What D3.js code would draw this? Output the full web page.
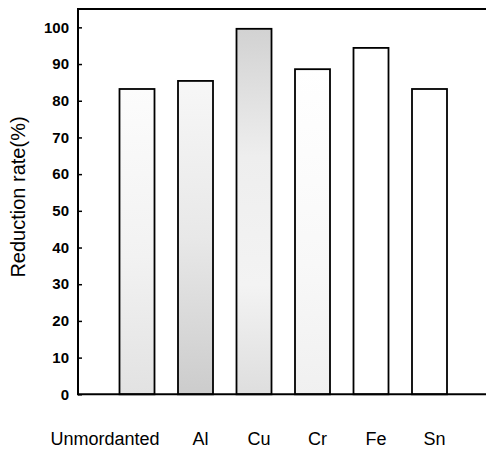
<!DOCTYPE html>
<html>
<head>
<meta charset="utf-8">
<script src="https://cdn.jsdelivr.net/npm/d3@7"></script>
<style>
  html, body { margin: 0; padding: 0; background: #fff; }
  svg { display: block; }
</style>
</head>
<body>
<svg id="chart" width="486" height="450"></svg>
<script>
const categories = ["Unmordanted", "Al", "Cu", "Cr", "Fe", "Sn"];
const values = [83.2, 85.4, 99.6, 88.6, 94.4, 83.2];
const yTicks = [0, 10, 20, 30, 40, 50, 60, 70, 80, 90, 100];
const yLabel = "Reduction rate(%)";

// styles (gradient stops per bar: [offset, colour])
const barShades = [
  [[0, "#fcfcfc"], [0.55, "#f2f2f2"], [1, "#e2e2e2"]],
  [[0, "#f7f7f7"], [0.5, "#e8e8e8"], [1, "#cccccc"]],
  [[0, "#d2d2d2"], [0.35, "#eeeeee"], [0.7, "#f3f3f3"], [1, "#dedede"]],
  [[0, "#ffffff"], [0.6, "#f8f8f8"], [1, "#f0f0f0"]],
  [[0, "#ffffff"], [1, "#ffffff"]],
  [[0, "#ffffff"], [1, "#ffffff"]]
];

const svg = d3.select("#chart");
const mLeft = 78, mRight = 486, mTop = 9, mBottom = 394.3;

const y = d3.scaleLinear().domain([0, 105]).range([mBottom, mTop]);
const x = d3.scaleBand().domain(categories)
  .range([90.25, 476.25]).paddingInner(0.4017).paddingOuter(0.5);

const defs = svg.append("defs");
categories.forEach((c, i) => {
  const g = defs.append("linearGradient").attr("id", "g" + i)
    .attr("x1", 0).attr("y1", 0).attr("x2", 0).attr("y2", 1);
  barShades[i].forEach(s => g.append("stop").attr("offset", s[0]).attr("stop-color", s[1]));
});

// bars
svg.append("g").selectAll("rect").data(categories).join("rect")
  .attr("x", d => x(d))
  .attr("y", (d, i) => y(values[i]))
  .attr("width", x.bandwidth())
  .attr("height", (d, i) => y(0) - y(values[i]))
  .attr("fill", (d, i) => `url(#g${i})`)
  .attr("stroke", "#000")
  .attr("stroke-width", 1.8);

// left axis with inward ticks
const yAxis = d3.axisRight(y).tickValues(yTicks).tickSize(4).tickFormat("");
const ga = svg.append("g").attr("transform", `translate(${mLeft},0)`).call(yAxis);
ga.select(".domain").remove();
ga.selectAll(".tick line").attr("stroke", "#000").attr("stroke-width", 1.5);

svg.append("line").attr("x1", mLeft).attr("x2", mLeft).attr("y1", mTop - 1).attr("y2", mBottom + 1)
  .attr("stroke", "#000").attr("stroke-width", 2);
svg.append("line").attr("x1", mLeft).attr("x2", mRight).attr("y1", mTop).attr("y2", mTop)
  .attr("stroke", "#000").attr("stroke-width", 2);
svg.append("line").attr("x1", mLeft).attr("x2", mRight).attr("y1", mBottom).attr("y2", mBottom)
  .attr("stroke", "#000").attr("stroke-width", 2);

// tick labels
svg.append("g").selectAll("text").data(yTicks).join("text")
  .attr("x", 69).attr("y", d => y(d))
  .attr("dy", "0.35em")
  .attr("text-anchor", "end")
  .attr("font-family", "Liberation Sans, Arial, sans-serif")
  .attr("font-size", 15).attr("font-weight", "bold")
  .text(d => d);

// category labels
svg.append("g").selectAll("text").data(categories).join("text")
  .attr("x", (d, i) => i === 0 ? x(d) + x.bandwidth() + 5 : x(d) + x.bandwidth() / 2 + 5)
  .attr("y", 445)
  .attr("text-anchor", (d, i) => i === 0 ? "end" : "middle")
  .attr("font-family", "Liberation Sans, Arial, sans-serif")
  .attr("font-size", 18)
  .text(d => d);

// y label
svg.append("text")
  .attr("transform", `translate(25,197) rotate(-90)`)
  .attr("text-anchor", "middle")
  .attr("font-family", "Liberation Sans, Arial, sans-serif")
  .attr("font-size", 20)
  .text(yLabel);
</script>
</body>
</html>
